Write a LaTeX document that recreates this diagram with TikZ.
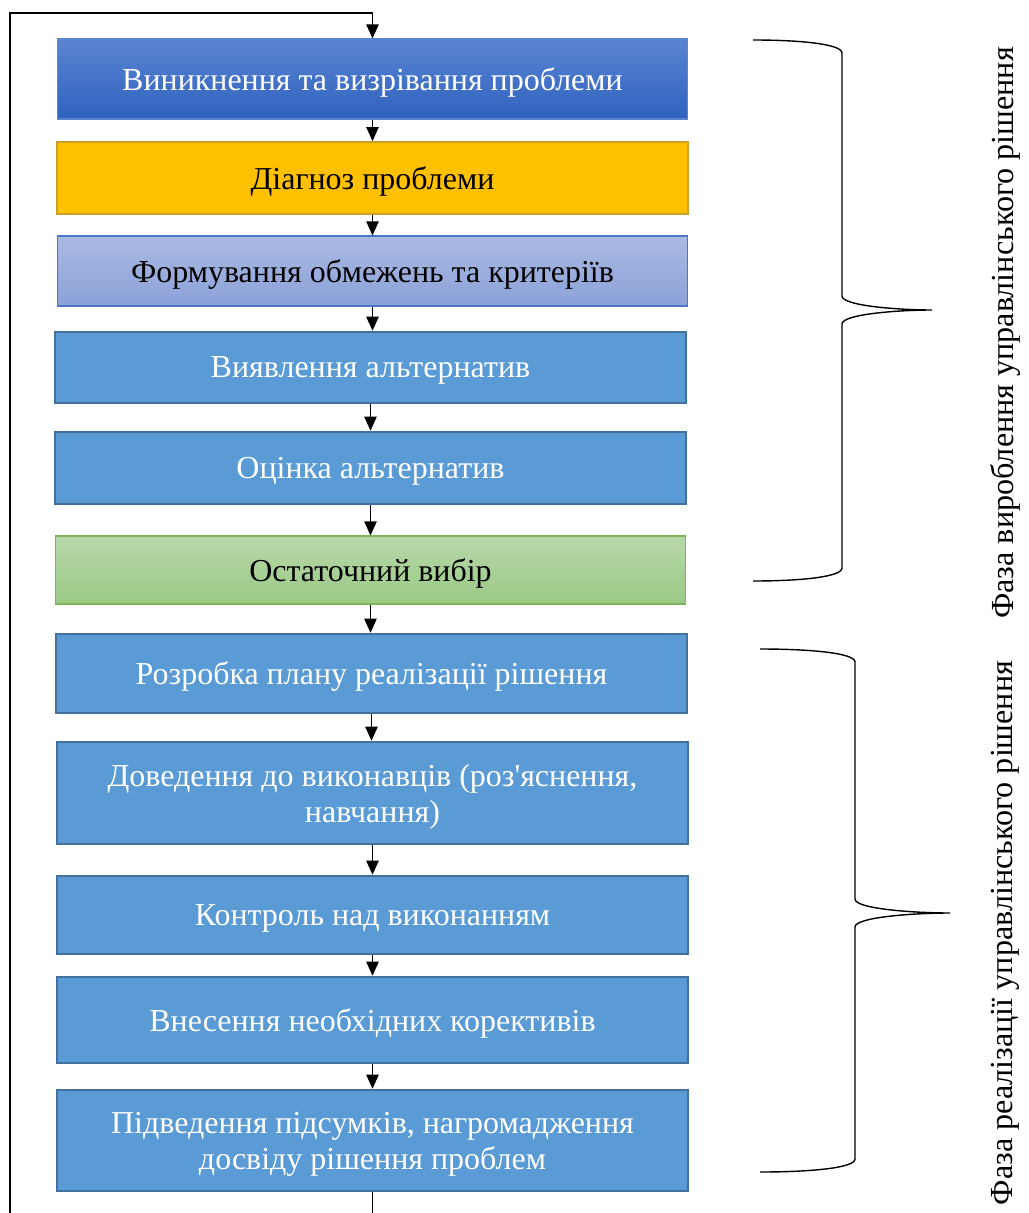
\documentclass[tikz,border=0pt]{standalone}
\usepackage{fontspec}
\setmainfont{Liberation Serif}
\usetikzlibrary{arrows.meta}

\definecolor{boxblue}{HTML}{5B9BD5}
\definecolor{boxblueline}{HTML}{41719C}
\definecolor{topblueA}{HTML}{5A84D2}
\definecolor{topblueB}{HTML}{2F62BE}
\definecolor{topblueline}{HTML}{5B85D0}
\definecolor{diagyellow}{HTML}{FFC000}
\definecolor{diagline}{HTML}{C8A02A}
\definecolor{lavA}{HTML}{AABAE2}
\definecolor{lavB}{HTML}{8BA1D8}
\definecolor{lavline}{HTML}{4A76C6}
\definecolor{greenA}{HTML}{B8D8AA}
\definecolor{greenB}{HTML}{9BC985}
\definecolor{greenline}{HTML}{7DB65A}

\tikzset{
  stage/.style={draw=boxblueline, line width=1.4pt, fill=boxblue, text=white,
    minimum width=12.62cm, align=center, inner sep=0pt, text depth=0pt,
    font=\fontsize{18.2}{20.6}\selectfont},
  firststage/.style={stage, draw=topblueline, line width=0.6pt,
    top color=topblueA, bottom color=topblueB},
  diagstage/.style={stage, draw=diagline, line width=1pt, fill=diagyellow, text=black},
  limitstage/.style={stage, draw=lavline, line width=0.6pt,
    top color=lavA, bottom color=lavB, text=black},
  choicestage/.style={stage, draw=greenline, line width=0.6pt,
    top color=greenA, bottom color=greenB, text=black},
  arr/.style={line width=0.8pt, -{Triangle[width=7pt,length=8pt]}},
  brace/.style={line width=0.8pt},
  phase/.style={rotate=90, font=\fontsize{18.3}{21}\selectfont}
}

\begin{document}
\begin{tikzpicture}[x=0.02cm, y=-0.02cm]
  \useasboundingbox (0,0) rectangle (1028,1213);

  % Stages of the decision
  \node[firststage, minimum height=1.6cm] (b1) at (372.5,79) {Виникнення та визрівання проблеми};
  \node[diagstage, minimum height=1.44cm] (b2) at (372.5,178) {Діагноз проблеми};
  \node[limitstage, minimum height=1.4cm] (b3) at (372.5,271) {Формування обмежень та критеріїв};
  \node[stage, minimum height=1.42cm] (b4) at (370.5,367.5) {Виявлення альтернатив};
  \node[stage, minimum height=1.44cm] (b5) at (370.5,468) {Оцінка альтернатив};
  \node[choicestage, minimum height=1.36cm] (b6) at (370.5,570) {Остаточний вибір};
  \node[stage, minimum height=1.58cm] (b7) at (371.5,673.5) {Розробка плану реалізації рішення};
  \node[stage, minimum height=2.04cm] (b8) at (372.5,793) {Доведення до виконавців (роз\textquotesingle яснення,\\навчання)};
  \node[stage, minimum height=1.56cm] (b9) at (372.5,915) {Контроль над виконанням};
  \node[stage, minimum height=1.72cm] (b10) at (372.5,1020) {Внесення необхідних коректив\-ів};
  \node[stage, minimum height=2.02cm] (b11) at (372.5,1140.5) {Підведення підсумків, нагромадження\\досвіду рішення проблем};

  % Arrows between stages
  \foreach \a/\b in {b1/b2,b2/b3,b3/b4,b4/b5,b5/b6,b6/b7,b7/b8,b8/b9,b9/b10,b10/b11} {
    \draw[arr] (\a.south) -- (\a.south |- \b.north);
  }

  % Return loop
  \coordinate (loopbot) at (372.5,1213);
  \coordinate (loopleftbot) at (10,1213);
  \coordinate (looplefttop) at (10,13);
  \draw[line width=0.8pt] (b11.south) -- (loopbot);
  \draw[arr] (loopleftbot) -- (looplefttop) -| (b1.north);

  % Braces
  \draw[brace] (753,40) .. controls (800,40) and (842,44) .. (842,53) -- (842,296)
    .. controls (842,306) and (900,310) .. (932,310)
    .. controls (900,310) and (842,314) .. (842,324) -- (842,568)
    .. controls (842,577) and (800,581) .. (753,581);
  \draw[brace] (760,649) .. controls (810,649) and (855,653) .. (855,662) -- (855,899)
    .. controls (855,909) and (915,913) .. (950,913)
    .. controls (915,913) and (855,917) .. (855,927) -- (855,1159)
    .. controls (855,1168) and (810,1172) .. (760,1172);

  % Phase labels
  \node[phase] (ph1) at (1005,333) {Фаза вироблення управлінського рішення};
  \node[phase] (ph2) at (1005,933) {Фаза реалізації управлінського рішення};
\end{tikzpicture}
\end{document}
